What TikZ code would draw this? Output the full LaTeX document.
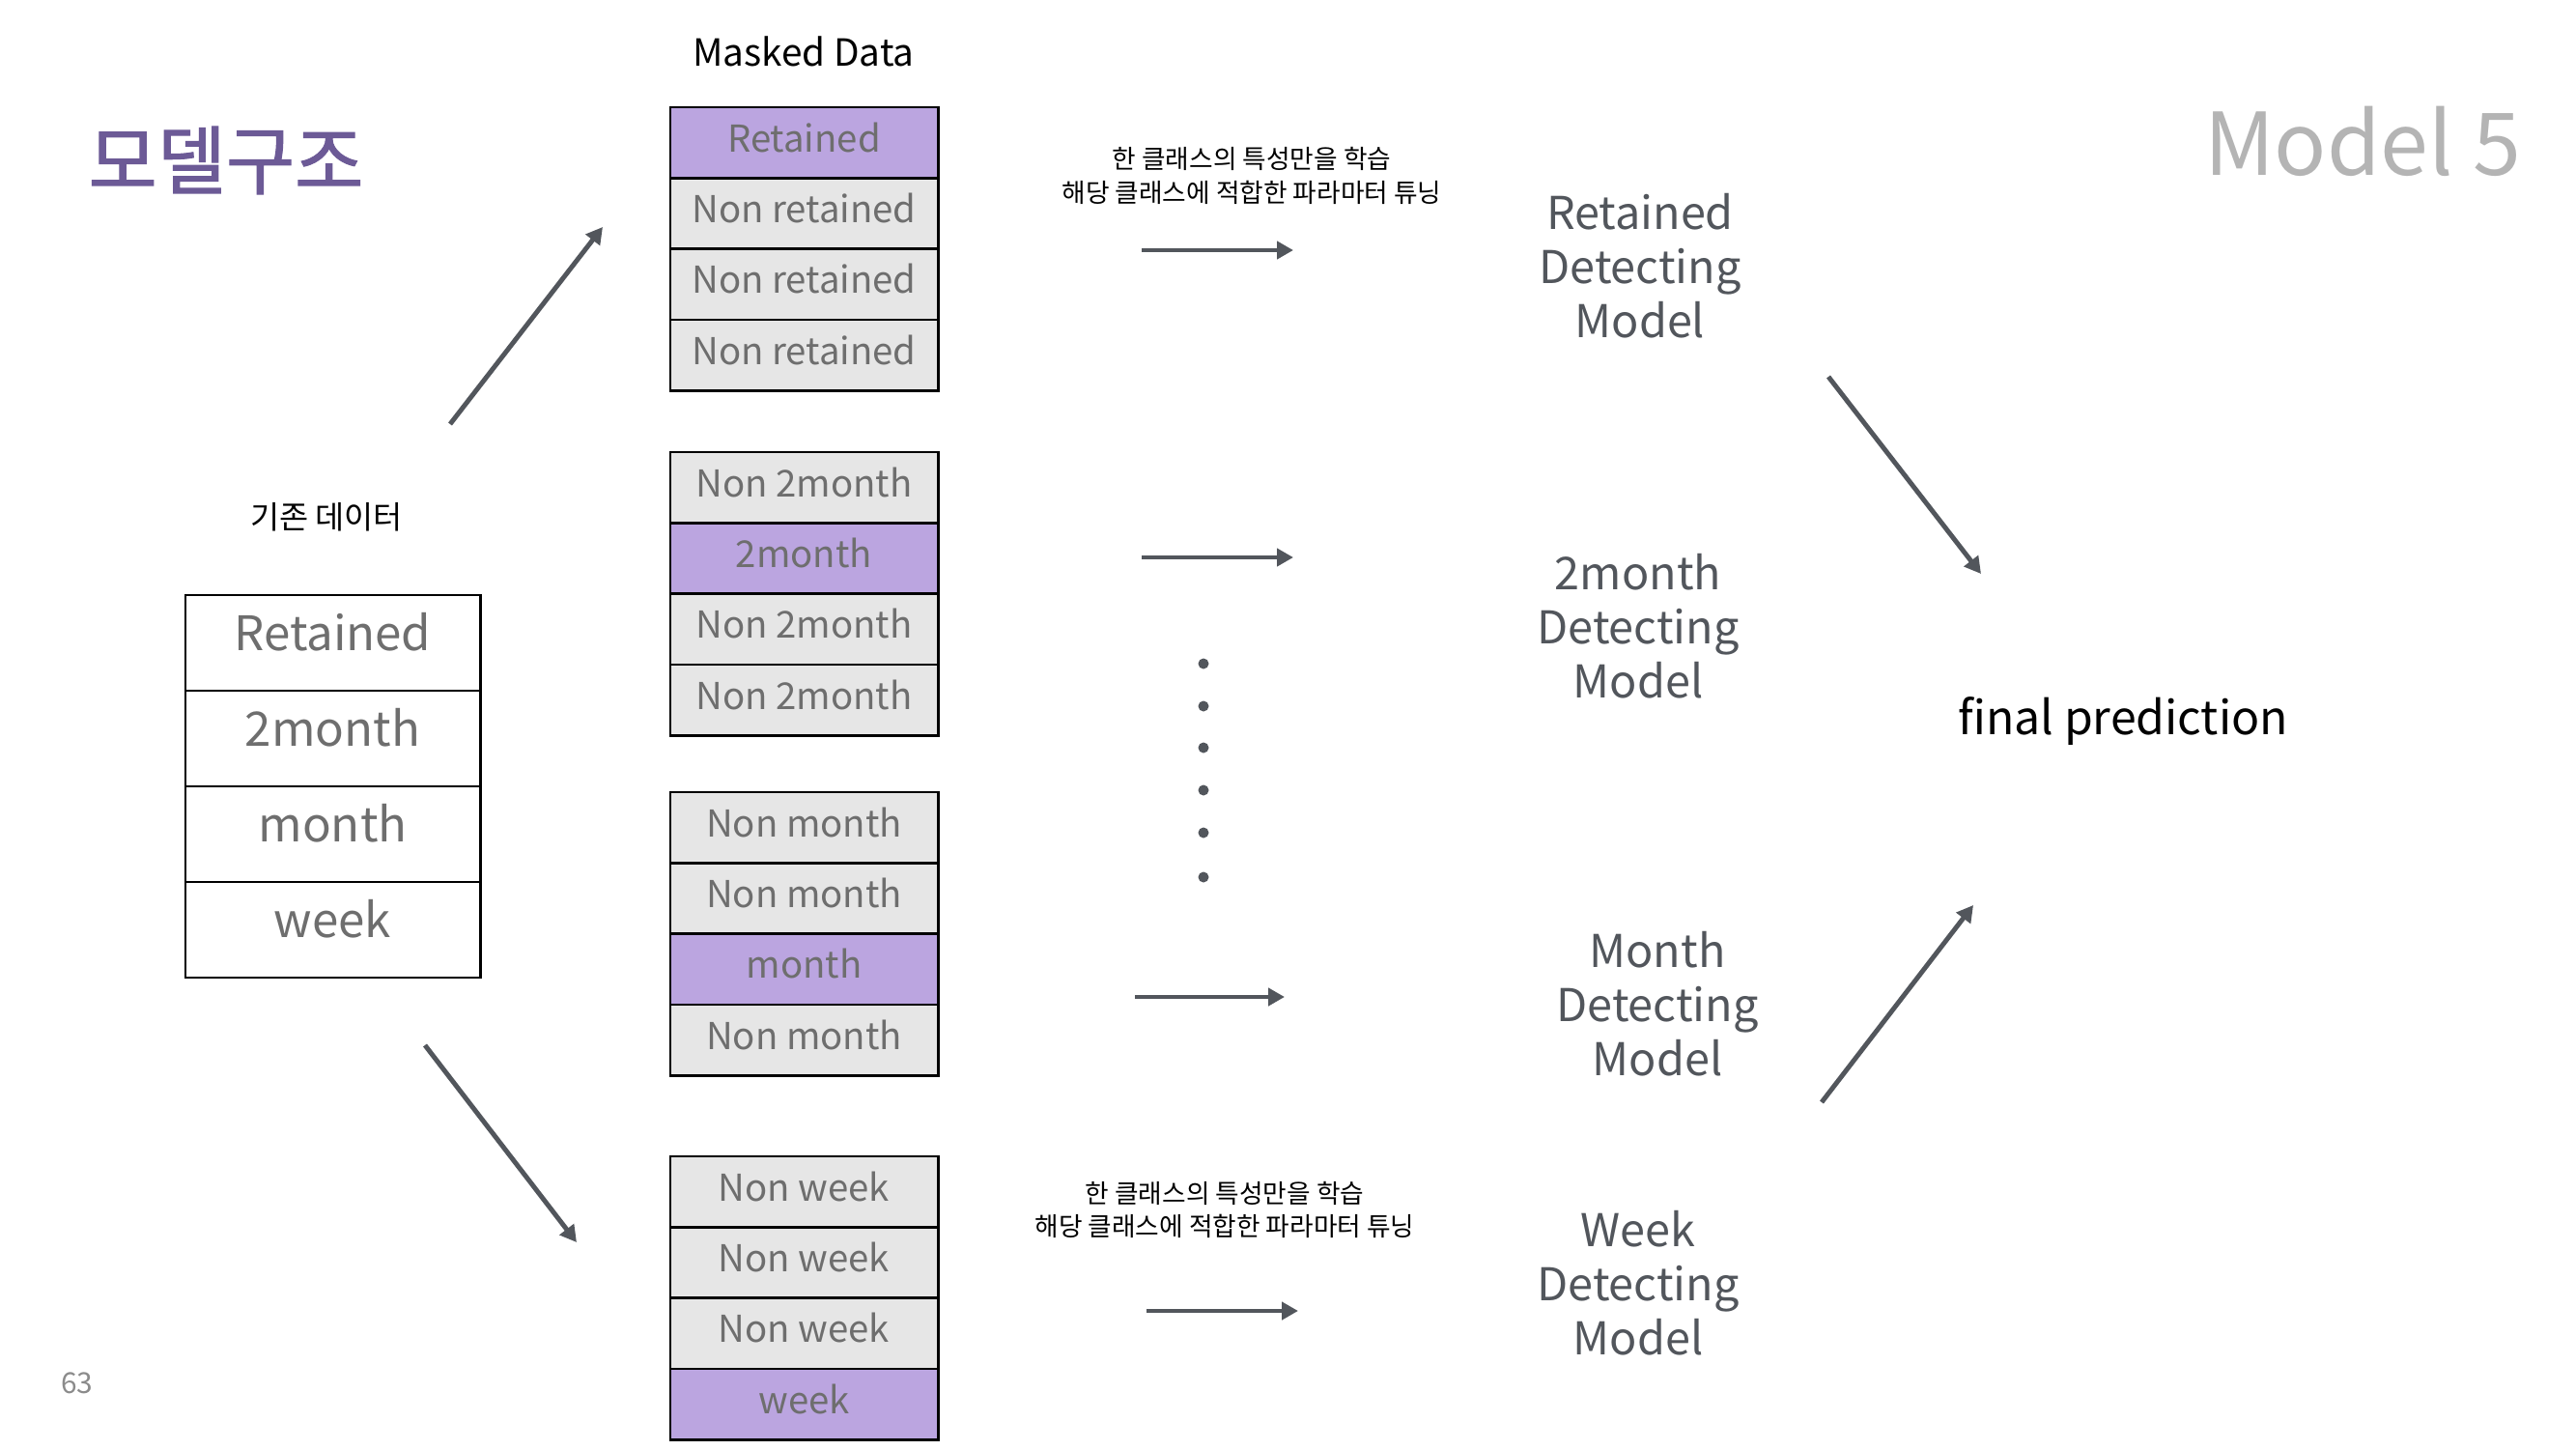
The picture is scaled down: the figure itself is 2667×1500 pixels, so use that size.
\documentclass[tikz,border=0pt]{standalone}
\usepackage{fontspec}
\setmainfont{Noto Sans CJK KR}
\newfontfamily\titlefont[FakeBold=1.4]{Noto Sans CJK KR}
\usetikzlibrary{arrows.meta}
\definecolor{titlepurple}{RGB}{108,90,150}
\definecolor{cellpurple}{RGB}{187,165,224}
\definecolor{cellgray}{RGB}{230,230,230}
\definecolor{celltext}{RGB}{110,110,110}
\definecolor{slate}{RGB}{82,86,92}
\definecolor{lightgray}{RGB}{180,180,180}
\tikzset{
  mcell/.style={draw=black, line width=0.8pt, fill=cellgray, minimum width=2.77cm, minimum height=0.733cm, inner sep=0pt,
     text=celltext, font=\fontsize{10.9}{13}\selectfont, text height=5.4pt, text depth=0pt},
  hcell/.style={mcell, fill=cellpurple},
  lcell/.style={draw=black, line width=0.8pt, fill=white, minimum width=3.05cm, minimum height=0.99cm, inner sep=0pt,
     text=celltext, font=\fontsize{14}{16}\selectfont, text height=4.6pt, text depth=0pt},
  modellabel/.style={align=center, text=slate, font=\fontsize{13.3}{16}\selectfont, inner sep=0pt},
  note/.style={align=center, text=black, font=\fontsize{7.6}{9.7}\selectfont, inner sep=0pt},
  arr/.style={draw=slate, line width=1.4pt, -{Triangle[length=0.17cm,width=0.18cm]}},
  dotmark/.style={circle, fill=slate, inner sep=0pt, minimum size=0.11cm}
}
\begin{document}
\begin{tikzpicture}[x=0.01cm, y=-0.01cm]
\useasboundingbox (0,0) rectangle (2667,1500);

% titles
\node[text=titlepurple, font=\fontsize{22}{25}\titlefont, inner sep=0pt] (title) at (234,166) {모델구조};
\node[text=lightgray, font=\fontsize{25.5}{30}\selectfont, inner sep=0pt] (model5) at (2446,146) {Model 5};
\node[text=celltext!80, font=\fontsize{8.5}{10}\selectfont, inner sep=0pt] (pagenum) at (80,1432) {63};

% original data
\node[font=\fontsize{9.3}{11}\selectfont, inner sep=0pt] (origlabel) at (338,535) {기존 데이터};
\node[lcell] (o1) at (344.5,665.5) {Retained};
\node[lcell] (o2) at (344.5,764.5) {2month};
\node[lcell] (o3) at (344.5,863.5) {month};
\node[lcell] (o4) at (344.5,962.5) {week};

% masked data
\node[font=\fontsize{11}{13}\selectfont, inner sep=0pt] (maskedlabel) at (832,53) {Masked Data};

\node[hcell] (a1) at (832.5,147.7) {Retained};
\node[mcell] (a2) at (832.5,221.0) {Non retained};
\node[mcell] (a3) at (832.5,294.3) {Non retained};
\node[mcell] (a4) at (832.5,367.6) {Non retained};

\node[mcell] (b1) at (832.5,504.7) {Non 2month};
\node[hcell] (b2) at (832.5,578.0) {2month};
\node[mcell] (b3) at (832.5,651.3) {Non 2month};
\node[mcell] (b4) at (832.5,724.6) {Non 2month};

\node[mcell] (c1) at (832.5,856.7) {Non month};
\node[mcell] (c2) at (832.5,930.0) {Non month};
\node[hcell] (c3) at (832.5,1003.3) {month};
\node[mcell] (c4) at (832.5,1076.6) {Non month};

\node[mcell] (d1) at (832.5,1233.7) {Non week};
\node[mcell] (d2) at (832.5,1307.0) {Non week};
\node[mcell] (d3) at (832.5,1380.3) {Non week};
\node[hcell] (d4) at (832.5,1453.6) {week};

% notes
\node[note] (note1) at (1296,182) {한 클래스의 특성만을 학습\\해당 클래스에 적합한 파라마터 튜닝};
\node[note] (note2) at (1268,1252) {한 클래스의 특성만을 학습\\해당 클래스에 적합한 파라마터 튜닝};

% models
\node[modellabel] (m1) at (1698,275) {Retained\\Detecting\\Model};
\node[modellabel] (m2) at (1696,648) {2month\\Detecting\\Model};
\node[modellabel] (m3) at (1716,1039) {Month\\Detecting\\Model};
\node[modellabel] (m4) at (1696,1328) {Week\\Detecting\\Model};

\node[font=\fontsize{13.7}{16}\selectfont, inner sep=0pt] (final) at (2198,747) {final prediction};

% dots
\foreach \i/\yy in {1/687,2/731,3/774,4/818,5/862,6/908}
  \node[dotmark] (dot\i) at (1246,\yy) {};

% arrow endpoints
\coordinate (u1s) at (466,439);  \coordinate (u1e) at (624,235);
\coordinate (u2s) at (440,1082); \coordinate (u2e) at (597,1286);
\coordinate (h1s) at (1182,259); \coordinate (h1e) at (1339,259);
\coordinate (h2s) at (1182,577); \coordinate (h2e) at (1339,577);
\coordinate (h3s) at (1175,1032); \coordinate (h3e) at (1330,1032);
\coordinate (h4s) at (1187,1357); \coordinate (h4e) at (1344,1357);
\coordinate (r1s) at (1893,390); \coordinate (r1e) at (2051,594);
\coordinate (r2s) at (1886,1141); \coordinate (r2e) at (2043,937);

\draw[arr] (u1s) -- (u1e);
\draw[arr] (u2s) -- (u2e);
\draw[arr] (h1s) -- (h1e);
\draw[arr] (h2s) -- (h2e);
\draw[arr] (h3s) -- (h3e);
\draw[arr] (h4s) -- (h4e);
\draw[arr] (r1s) -- (r1e);
\draw[arr] (r2s) -- (r2e);
\end{tikzpicture}
\end{document}
